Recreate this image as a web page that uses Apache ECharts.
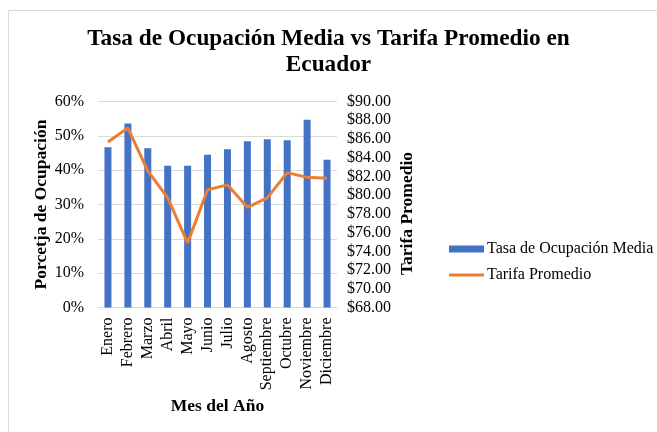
<!DOCTYPE html>
<html><head><meta charset="utf-8">
<script src="https://cdn.jsdelivr.net/npm/echarts@6/dist/echarts.min.js"></script>
<style>html,body{margin:0;padding:0;background:#fff}#c{width:657px;height:432px}</style>
</head><body><div id="c"></div>
<script>
var categories = ['Enero','Febrero','Marzo','Abril','Mayo','Junio','Julio','Agosto','Septiembre','Octubre','Noviembre','Diciembre'];
var ocupacion = [46.7, 53.6, 46.4, 41.3, 41.3, 44.5, 46.1, 48.4, 49.0, 48.7, 54.7, 43.0];
var tarifa = [85.67, 87.16, 82.6, 79.7, 74.9, 80.58, 81.1, 78.7, 79.7, 82.4, 81.9, 81.8];
var leftTicks = [0, 10, 20, 30, 40, 50, 60];
var rightTicks = [68, 70, 72, 74, 76, 78, 80, 82, 84, 86, 88, 90];
var titleLines = ['Tasa de Ocupación Media vs Tarifa Promedio en', 'Ecuador'];

var F = 'Liberation Serif';
var chart = echarts.init(document.getElementById('c'), null, {renderer:'canvas'});
chart.setOption({
  backgroundColor:'#fff',
  animation:false,
  graphic:[
    {type:'rect', shape:{x:8.5,y:10.5,width:700,height:500}, style:{fill:'none', stroke:'#d9d9d9', lineWidth:1}, silent:true},
    {type:'text', x:328.5, y:38.5, style:{text:titleLines[0], font:'bold 23.3px "Liberation Serif"', fill:'#000', textAlign:'center', textVerticalAlign:'middle'}},
    {type:'text', x:328.5, y:65, style:{text:titleLines[1], font:'bold 23.3px "Liberation Serif"', fill:'#000', textAlign:'center', textVerticalAlign:'middle'}}
  ],
  legend:{orient:'vertical', left:444, top:236, itemGap:10, itemWidth:35, itemHeight:7,
    textStyle:{fontFamily:F, fontSize:16, color:'#000', padding:[0,0,0,-2]},
    data:[{name:'Tasa de Ocupación Media', icon:'rect'},{name:'Tarifa Promedio', icon:'path://M0,0H35V3H0Z'}]},
  grid:{left:98, right:320, top:101.5, bottom:124.5, containLabel:false},
  xAxis:{type:'category', data:categories, name:'Mes del Año', nameLocation:'middle', nameGap:90,
    nameTextStyle:{fontFamily:F, fontSize:17.5, fontWeight:'bold', color:'#000'},
    axisLine:{lineStyle:{color:'#d9d9d9'}}, axisTick:{show:false},
    axisLabel:{rotate:90, interval:0, fontFamily:F, fontSize:16, color:'#000', margin:10}},
  yAxis:[{type:'value', min:0, max:60, interval:10, name:'Porcetja de Ocupación', nameLocation:'middle', nameGap:47, nameRotate:90,
      nameTextStyle:{fontFamily:F, fontSize:17.5, fontWeight:'bold', color:'#000'},
      axisLine:{show:false}, axisTick:{show:false},
      splitLine:{lineStyle:{color:'#d9d9d9'}},
      axisLabel:{fontFamily:F, fontSize:16, color:'#000', margin:14, formatter:function(v){return leftTicks.indexOf(v)>=0? v+'%':'';}}},
    {type:'value', min:68, max:90, interval:2, name:'Tarifa Promedio', nameLocation:'middle', nameGap:61, nameRotate:90,
      nameTextStyle:{fontFamily:F, fontSize:17.5, fontWeight:'bold', color:'#000', padding:[0,18,0,0]},
      axisLine:{show:false}, axisTick:{show:false}, splitLine:{show:false},
      axisLabel:{fontFamily:F, fontSize:16, color:'#000', margin:10, formatter:function(v){return rightTicks.indexOf(v)>=0? '$'+v.toFixed(2):'';}}}],
  series:[{name:'Tasa de Ocupación Media', type:'bar', data:ocupacion, barWidth:7, itemStyle:{color:'#4472C4'}},
    {name:'Tarifa Promedio', type:'line', yAxisIndex:1, data:tarifa, symbol:'none', lineStyle:{color:'#ED7D31', width:3}, itemStyle:{color:'#ED7D31'}}]
});
</script></body></html>
